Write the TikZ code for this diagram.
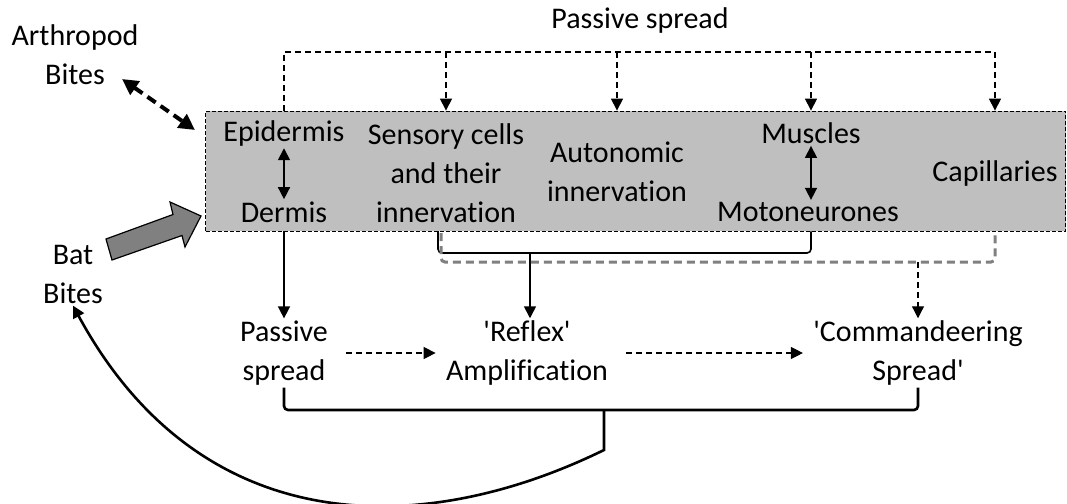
\documentclass[tikz,border=0pt]{standalone}
\usepackage{fontspec}
\setmainfont{Carlito}[Ligatures=NoCommon]
\usetikzlibrary{arrows.meta}

\begin{document}
\begin{tikzpicture}[x=0.5pt,y=-0.5pt,
    >={Triangle[length=6pt,width=6pt]},
    every node/.style={font=\fontsize{15}{19.5}\selectfont, align=center, inner sep=1pt}]
    \useasboundingbox (0,0) rectangle (1067,504);
    % the gray band
    \node[draw=black, dash pattern=on 2pt off 1pt, fill=black!25, minimum width=430pt, minimum height=60pt, inner sep=0pt] (skin) at (635.5,171) {};
    \node (title) at (640,20) {Passive spread};
    \node (arthro) at (75,55) {Arthropod\\Bites};
    \node (bat) at (73,274) {Bat\\Bites};
    \node (epi) at (284,133) {Epidermis};
    \node (derm) at (284,212) {Dermis};
    \node (sens) at (446,173) {Sensory cells\\and their\\innervation};
    \node (auto) at (617,172) {Autonomic\\innervation};
    \node (musc) at (811,133) {Muscles};
    \node (moto) at (808,212) {Motoneurones};
    \node (cap) at (995,173) {Capillaries};
    \node (passive) at (284,353) {Passive\\spread};
    \node (reflex) at (527,353) {\textquotesingle Reflex\textquotesingle\\Amplification};
    \node (command) at (918,353) {\textquotesingle Commandeering\\Spread\textquotesingle};
    \coordinate (top) at (640,52);
    \coordinate (arthrotip) at (122,79);
    \coordinate (skinentry) at (195,130);
    \coordinate (sensfoot) at (438,231);
    \coordinate (solidjoin) at (530,253);
    \coordinate (grayfoot) at (441,233);
    \coordinate (grayjoin) at (918,262);
    \coordinate (bottomjoin) at (604,410);
    % passive spread on top
    \draw [semithick, dash pattern=on 3pt off 2pt, ->] (epi |- skin.north) |- (top) -| (cap |- skin.north);
    \draw [semithick, dash pattern=on 3pt off 2pt, ->] (sens |- top) -- (sens |- skin.north);
    \draw [semithick, dash pattern=on 3pt off 2pt, ->] (auto |- top) -- (auto |- skin.north);
    \draw [semithick, dash pattern=on 3pt off 2pt, ->] (musc |- top) -- (musc |- skin.north);
    % bites
    \draw [{Triangle[length=8pt,width=8pt]}-{Triangle[length=8pt,width=8pt]}, line width=2pt, dash pattern=on 5pt off 3pt] (arthrotip) -- (skinentry);
    \filldraw [fill=black!50, draw=black, semithick] (106,239) -- (173,214.5) -- (170,202) -- (201,216) -- (185,247) -- (182,235.5) -- (112,260) -- cycle;
    % inside the band
    \path [thick, <->] (epi) edge (derm);
    \draw [thick, <->] (musc.south) -- (musc.south |- moto.north);
    % below the band
    \draw [thick, ->] (derm |- skin.south) -- (passive);
    \draw [thick, rounded corners=2pt] (sensfoot) |- (solidjoin) -| (musc |- skin.south);
    \draw [thick, ->] (solidjoin) -- (solidjoin |- reflex.north);
    \draw [black!50, line width=1.5pt, dash pattern=on 4pt off 2.5pt, rounded corners=2pt] (grayfoot) |- (grayjoin) -| (cap |- skin.south);
    \draw [semithick, dash pattern=on 3pt off 2pt, ->] (grayjoin) -- (command);
    \path [semithick, dash pattern=on 3pt off 2pt, ->] (passive) edge[shorten <=8pt, shorten >=4pt] (reflex);
    \path [semithick, dash pattern=on 3pt off 2pt, ->] (reflex) edge[shorten <=8pt, shorten >=4pt] (command);
    % back to the bites
    \draw [line width=1.3pt, rounded corners=2pt] (passive.south) |- (bottomjoin) -| (command.south);
    \draw [line width=1.3pt, ->] (bottomjoin) -- ++(0,40) .. controls (420,540) and (200,540) .. (bat.south);
\end{tikzpicture}
\end{document}
